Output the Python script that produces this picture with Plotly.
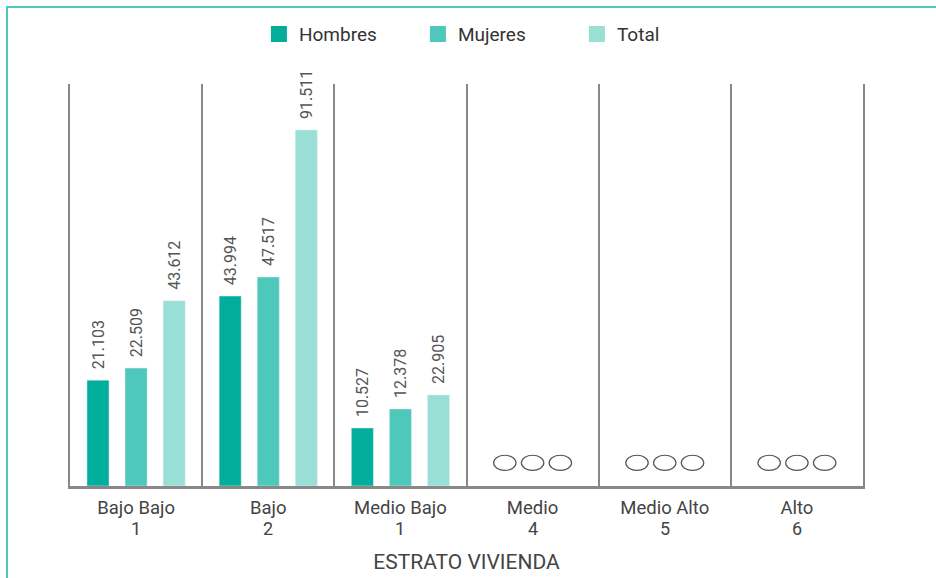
import plotly.graph_objects as go

# categorias del eje x
estratos = ["Bajo Bajo", "Bajo", "Medio Bajo", "Medio", "Medio Alto", "Alto"]
niveles = ["1", "2", "1", "4", "5", "6"]

# etiquetas tal como aparecen en la grafica (miles)
hombres_txt = ["21.103", "43.994", "10.527", None, None, None]
mujeres_txt = ["22.509", "47.517", "12.378", None, None, None]
total_txt = ["43.612", "91.511", "22.905", None, None, None]

# altura dibujada de cada barra (no es proporcional a la etiqueta)
hombres = [27.2, 48.8, 14.9, None, None, None]
mujeres = [30.3, 53.7, 19.8, None, None, None]
total = [47.6, 91.5, 23.4, None, None, None]

colores = {"Hombres": "#00ae9b", "Mujeres": "#4ec8ba", "Total": "#9adfd6"}
series = [("Hombres", hombres, hombres_txt), ("Mujeres", mujeres, mujeres_txt), ("Total", total, total_txt)]

x = list(range(len(estratos)))

fig = go.Figure()

for nombre, vals, txt in series:
    fig.add_trace(go.Bar(
        x=x, y=vals, name=nombre,
        marker_color=colores[nombre],
        text=["\u00a0\u00a0" + t if t else None for t in txt],
        textposition="outside", textangle=-90,
        textfont=dict(family="Roboto", size=16, color="#555555"),
        constraintext="none", cliponaxis=False,
        showlegend=False,
    ))
    # solo para la leyenda (cuadros mas grandes)
    fig.add_trace(go.Scatter(
        x=[None], y=[None], mode="markers", name=nombre,
        marker=dict(symbol="square", size=16, color=colores[nombre]),
    ))

# ovalos en los estratos sin dato
shapes = []
for i, v in enumerate(total):
    if v is None:
        for off in (-0.21, 0.0, 0.21):
            shapes.append(dict(type="circle", xref="x", yref="y",
                               x0=i + off - 0.085, x1=i + off + 0.085, y0=4.0, y1=7.9,
                               line=dict(color="#555555", width=1.2)))

# marco verde (arriba e izquierda)
shapes.append(dict(type="rect", xref="paper", yref="paper",
                   x0=(7 - 70) / 793, x1=1.3, y0=-0.5, y1=1 + (84 - 7) / 402,
                   line=dict(color="#4ec8ba", width=2), layer="below"))

# segunda linea de cada etiqueta (numero de estrato)
annotations = [dict(x=i, y=0, xref="x", yref="paper", text=n, showarrow=False,
                    yanchor="middle", yshift=-42,
                    font=dict(family="Roboto", size=18, color="#444444"))
               for i, n in zip(x, niveles)]

fig.update_layout(
    width=936, height=578,
    margin=dict(l=70, r=73, t=84, b=92),
    plot_bgcolor="white", paper_bgcolor="white",
    barmode="group", bargap=0.136, bargroupgap=0.42,
    shapes=shapes, annotations=annotations,
    legend=dict(orientation="h", x=0.539, xanchor="center", y=1.124, yanchor="middle",
                font=dict(family="Roboto", size=19, color="#333333"),
                entrywidth=114, entrywidthmode="pixels"),
    xaxis=dict(
        range=[-0.5, 5.5], tickvals=x, ticktext=estratos,
        tickfont=dict(family="Roboto", size=18.5, color="#444444"),
        ticklabelstandoff=3, automargin=False,
        showgrid=False, zeroline=False,
        showline=True, linecolor="#888888", linewidth=3,
        ticks="",
        minor=dict(tickvals=[i - 0.5 for i in range(len(estratos) + 1)], showgrid=True,
                   gridcolor="#888888", gridwidth=1.5, ticks=""),
        title=dict(text="ESTRATO VIVIENDA", font=dict(family="Roboto", size=21, color="#444444"), standoff=37),
    ),
    yaxis=dict(
        range=[0, 103.3], showticklabels=False, showgrid=False, zeroline=False,
        automargin=False,
        showline=True, mirror=True, linecolor="#888888", linewidth=1.5, ticks="",
    ),
)

fig.write_html("out.html", config={"displayModeBar": False},
               post_script="document.body.style.margin='0';")
